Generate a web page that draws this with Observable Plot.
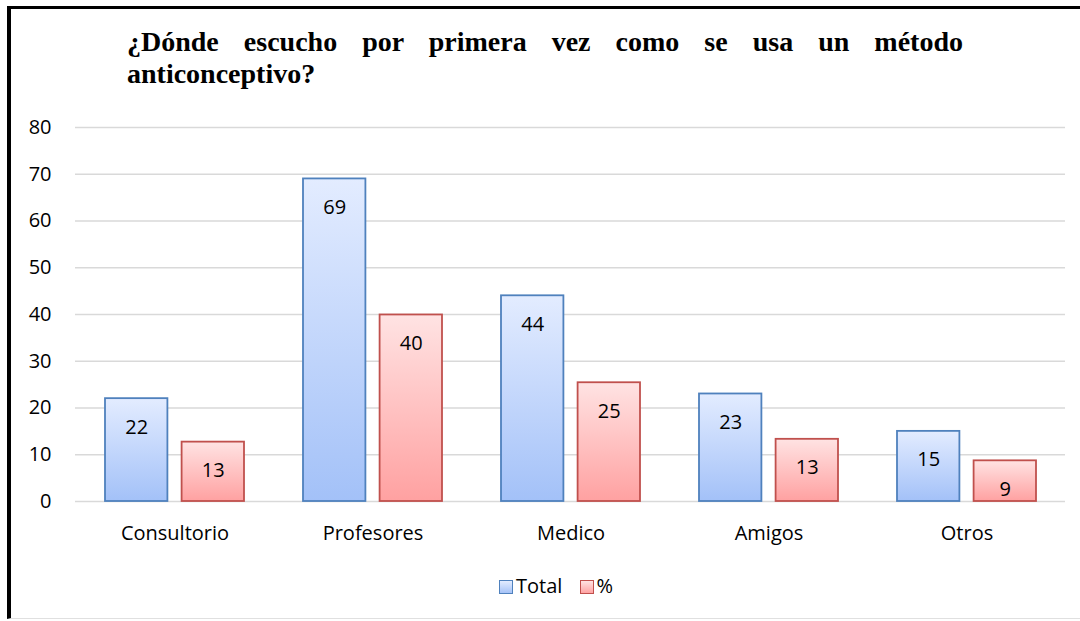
<!DOCTYPE html>
<html>
<head>
<meta charset="utf-8">
<script src="https://cdn.jsdelivr.net/npm/d3@7"></script>
<script src="https://cdn.jsdelivr.net/npm/@observablehq/plot@0.6"></script>
<style>
  html, body { margin: 0; padding: 0; background: #fff; }
  #wrap { position: relative; width: 1080px; height: 621px; overflow: hidden; background: #fff; }
  #frame { position: absolute; left: 7px; top: 6px; width: 1073px; height: 613px;
           border-top: 3px solid #000; border-left: 4px solid #000; border-bottom: 1px solid #e0e0e0; box-sizing: border-box; }
  #title { position: absolute; left: 127px; top: 26px; width: 836px; font-family: "Liberation Serif", "Times New Roman", serif;
           font-weight: bold; font-size: 28px; line-height: 32px; color: #000; }
  #title .l1 { text-align: justify; text-align-last: justify; }
  #title .l2 { text-align: left; }
  #chart { position: absolute; left: 0; top: 0; }
  #legend { position: absolute; top: 572px; left: 0; width: 1112px; text-align: center; font-family: "Open Sans", sans-serif;
            font-size: 20px; color: #000; }
  #legend span.sw { display: inline-block; width: 12px; height: 12px; border: 1.5px solid; vertical-align: -1px; margin-right: 3px; }
  #legend span.item { margin: 0 6px; }
</style>
</head>
<body>
<div id="wrap">
  <div id="frame"></div>
  <div id="chart"></div>
  <div id="title"><div class="l1">¿Dónde escucho por primera vez como se usa un método</div><div class="l2">anticonceptivo?</div></div>
  <div id="legend">
    <span class="item"><span class="sw" style="border-color:#4f81bd;background:linear-gradient(#e3ecff,#a6c3f7)"></span>Total</span>
    <span class="item"><span class="sw" style="border-color:#c0504d;background:linear-gradient(#ffe3e3,#ffa3a3)"></span>%</span>
  </div>
</div>
<script>
const categories = ["Consultorio", "Profesores", "Medico", "Amigos", "Otros"];
const totals = [22, 69, 44, 23, 15];
const percents = [12.7, 39.9, 25.4, 13.3, 8.7];
const yTicks = [0, 10, 20, 30, 40, 50, 60, 70, 80];

const rows = categories.map((c, i) => ({category: c, total: totals[i], pct: percents[i]}));

const font = "'Open Sans', sans-serif";
const off = 38.3;

const chart = Plot.plot({
  width: 1080,
  height: 621,
  marginLeft: 75,
  marginRight: 15,
  marginTop: 127,
  marginBottom: 120,
  style: {fontFamily: font, fontSize: "20px", color: "#000", background: "transparent"},
  x: {domain: categories, paddingInner: 0.3, paddingOuter: 0.15, label: null, tickSize: 0, tickPadding: 24},
  y: {domain: [0, 80], ticks: yTicks, label: null, tickSize: 0, tickPadding: 24},
  marks: [
    Plot.ruleY(yTicks, {stroke: "#d9d9d9", strokeWidth: 1.3}),
    Plot.barY(rows, {x: "category", y: "total", fill: "url(#gBlue)", stroke: "#4f81bd", strokeWidth: 1.8, insetRight: 76.6}),
    Plot.barY(rows, {x: "category", y: "pct", fill: "url(#gRed)", stroke: "#c0504d", strokeWidth: 1.8, insetLeft: 76.6}),
    Plot.text(rows, {x: "category", y: "total", text: d => d3.format(".0f")(d.total), dx: -off, dy: 28.5, fontSize: 20, fill: "#000"}),
    Plot.text(rows, {x: "category", y: "pct", text: d => d3.format(".0f")(d.pct), dx: off, dy: 28.5, fontSize: 20, fill: "#000"})
  ]
});

const svg = d3.select(chart);
const defs = svg.insert("defs", ":first-child");
const gb = defs.append("linearGradient").attr("id", "gBlue").attr("x1", 0).attr("y1", 0).attr("x2", 0).attr("y2", 1);
gb.append("stop").attr("offset", "0%").attr("stop-color", "#e3ecff");
gb.append("stop").attr("offset", "100%").attr("stop-color", "#a3c1f8");
const gr = defs.append("linearGradient").attr("id", "gRed").attr("x1", 0).attr("y1", 0).attr("x2", 0).attr("y2", 1);
gr.append("stop").attr("offset", "0%").attr("stop-color", "#ffe3e3");
gr.append("stop").attr("offset", "100%").attr("stop-color", "#ffa1a1");

document.getElementById("chart").appendChild(chart);
</script>
</body>
</html>
